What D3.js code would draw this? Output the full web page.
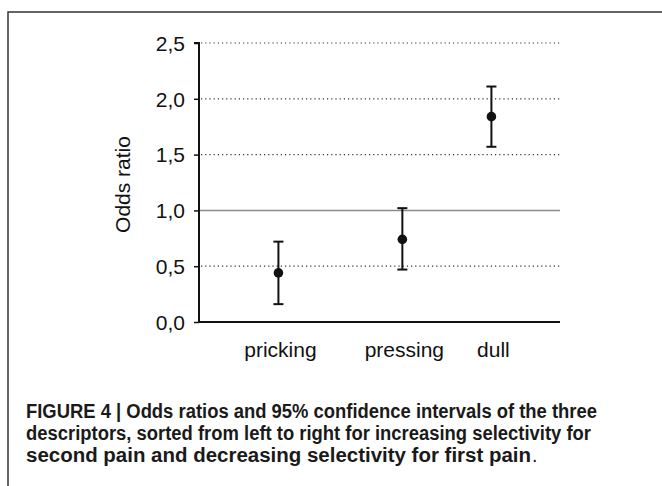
<!DOCTYPE html>
<html>
<head>
<meta charset="utf-8">
<script src="https://cdn.jsdelivr.net/npm/d3@7"></script>
<style>
  body { margin: 0; background: #fff; }
  svg { display: block; }
</style>
</head>
<body>
<svg id="chart" width="662" height="486"></svg>
<script>
const categories = ['pricking', 'pressing', 'dull']
const catPositions = [0.66, 1.69, 2.43]
const oddsRatio = [0.44, 0.74, 1.84]
const ciLower = [0.16, 0.47, 1.57]
const ciUpper = [0.72, 1.02, 2.11]
const yTicks = [0, 0.5, 1, 1.5, 2, 2.5]
const captionLines = [
    'FIGURE 4 | Odds ratios and 95% confidence intervals of the three',
    'descriptors, sorted from left to right for increasing selectivity for',
    'second pain and decreasing selectivity for first pain'
]
const captionWidths = [571, 565, 505]

const font = 'Liberation Sans, Arial, sans-serif'
const svg = d3.select('#chart')

// frame (only top and left edges are visible)
svg.append('path').attr('d', 'M8,486 V12 H662').attr('fill', 'none').attr('stroke', '#333').attr('stroke-width', 1.5)

const x = d3.scaleLinear().domain([0, 3]).range([199, 560])
const y = d3.scaleLinear().domain([0, 2.5]).range([322, 43])
const fmt = d => d3.format('.1f')(d).replace('.', ',')

// dotted gridlines
svg.append('g').selectAll('line').data(yTicks.filter(d => d !== 0 && d !== 1)).enter().append('line')
    .attr('x1', x(0) + 2).attr('x2', x(3)).attr('y1', d => y(d)).attr('y2', d => y(d))
    .attr('stroke', '#333').attr('stroke-width', 1.2).attr('stroke-dasharray', '1.2,3')

// reference line at 1
svg.append('line').attr('x1', x(0)).attr('x2', x(3)).attr('y1', y(1)).attr('y2', y(1))
    .attr('stroke', '#8c8c8c').attr('stroke-width', 1.5)

// y axis
const yAxis = svg.append('g').attr('transform', `translate(${x(0)},0)`)
    .call(d3.axisLeft(y).tickValues(yTicks).tickFormat(fmt).tickSize(5).tickPadding(9))
yAxis.select('.domain').attr('stroke', '#111').attr('stroke-width', 2).attr('d', `M-5,${y(2.5)}H0V${y(0)}`)
yAxis.selectAll('.tick line').attr('stroke', '#111').attr('stroke-width', 1.5)
yAxis.selectAll('text').attr('font-family', font).attr('font-size', 21).attr('fill', '#111').attr('dy', '0.35em')

// x axis
svg.append('line').attr('x1', x(0)).attr('x2', x(3)).attr('y1', y(0)).attr('y2', y(0))
    .attr('stroke', '#111').attr('stroke-width', 2)
svg.append('g').selectAll('text').data(categories).enter().append('text')
    .attr('x', (d, i) => x(catPositions[i]) + 2).attr('y', 357)
    .attr('text-anchor', 'middle')
    .attr('font-family', font).attr('font-size', 21).attr('fill', '#111')
    .text(d => d)

svg.append('text').attr('transform', `translate(130,${(y(0) + y(2.5)) / 2 + 2}) rotate(-90)`)
    .attr('text-anchor', 'middle')
    .attr('font-family', font).attr('font-size', 21).attr('fill', '#111')
    .text('Odds ratio')

// error bars
const bars = svg.append('g').selectAll('g').data(categories).enter().append('g')
bars.append('line')
    .attr('x1', (d, i) => x(catPositions[i])).attr('x2', (d, i) => x(catPositions[i]))
    .attr('y1', (d, i) => y(ciLower[i])).attr('y2', (d, i) => y(ciUpper[i]))
    .attr('stroke', '#111').attr('stroke-width', 2)
bars.append('line')
    .attr('x1', (d, i) => x(catPositions[i]) - 5).attr('x2', (d, i) => x(catPositions[i]) + 5)
    .attr('y1', (d, i) => y(ciLower[i])).attr('y2', (d, i) => y(ciLower[i]))
    .attr('stroke', '#111').attr('stroke-width', 2)
bars.append('line')
    .attr('x1', (d, i) => x(catPositions[i]) - 5).attr('x2', (d, i) => x(catPositions[i]) + 5)
    .attr('y1', (d, i) => y(ciUpper[i])).attr('y2', (d, i) => y(ciUpper[i]))
    .attr('stroke', '#111').attr('stroke-width', 2)
bars.append('circle')
    .attr('cx', (d, i) => x(catPositions[i])).attr('cy', (d, i) => y(oddsRatio[i]))
    .attr('r', 4.8).attr('fill', '#111')

// caption
const cap = svg.append('g')
captionLines.forEach((l, i) => {
    cap.append('text').attr('x', 26).attr('y', 418 + i * 22)
        .attr('font-family', font).attr('font-weight', 'bold').attr('font-size', 19.5).attr('fill', '#1a1a1a')
        .attr('textLength', captionWidths[i]).attr('lengthAdjust', 'spacingAndGlyphs')
        .text(l)
})
cap.append('text').attr('x', 26 + captionWidths[2] + 1).attr('y', 418 + 2 * 22)
    .attr('font-family', font).attr('font-size', 19.5).attr('fill', '#1a1a1a').text('.')
</script>
</body>
</html>
